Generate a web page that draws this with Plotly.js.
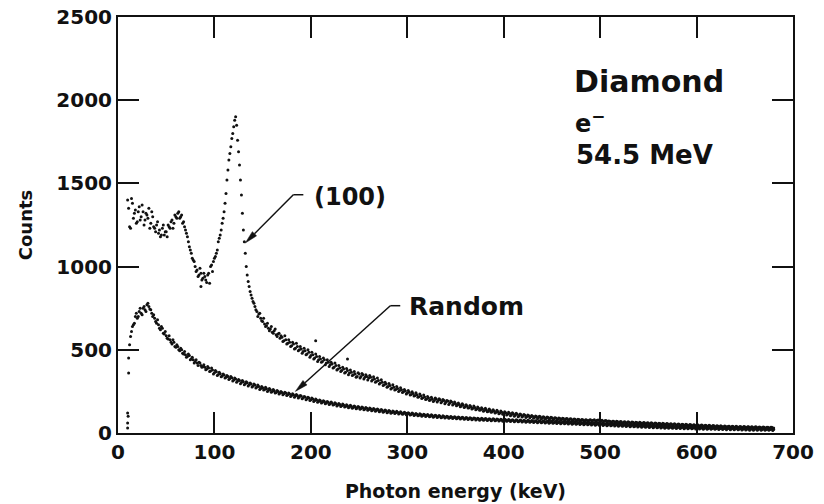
<!DOCTYPE html>
<html>
<head>
<meta charset="utf-8">
<script src="https://cdn.plot.ly/plotly-3.0.1.min.js"></script>
<style>html,body{margin:0;padding:0;background:#fff}#chart{width:824px;height:504px}</style>
</head>
<body>
<div id="chart"></div>
<script>
// Photon energy channels (keV), even channels
var energyEven = [
10,12,14,16,18,20,22,24,26,28,
30,32,34,36,38,40,42,44,46,48,
50,52,54,56,58,60,62,64,66,68,
70,72,74,76,78,80,82,84,86,88,
90,92,94,96,98,100,102,104,106,108,
110,112,114,116,118,120,122,124,126,128,
130,132,134,136,138,140,142,144,146,148,
150,152,154,156,158,160,162,164,166,168,
170,172,174,176,178,180,182,184,186,188,
190,192,194,196,198,200,202,204,206,208,
210,212,214,216,218,220,222,224,226,228,
230,232,234,236,238,240,242,244,246,248,
250,252,254,256,258,260,262,264,266,268,
270,272,274,276,278,280,282,284,286,288,
290,292,294,296,298,300,302,304,306,308,
310,312,314,316,318,320,322,324,326,328,
330,332,334,336,338,340,342,344,346,348,
350,352,354,356,358,360,362,364,366,368,
370,372,374,376,378,380,382,384,386,388,
390,392,394,396,398,400,402,404,406,408,
410,412,414,416,418,420,422,424,426,428,
430,432,434,436,438,440,442,444,446,448,
450,452,454,456,458,460,462,464,466,468,
470,472,474,476,478,480,482,484,486,488,
490,492,494,496,498,500,502,504,506,508,
510,512,514,516,518,520,522,524,526,528,
530,532,534,536,538,540,542,544,546,548,
550,552,554,556,558,560,562,564,566,568,
570,572,574,576,578,580,582,584,586,588,
590,592,594,596,598,600,602,604,606,608,
610,612,614,616,618,620,622,624,626,628,
630,632,634,636,638,640,642,644,646,648,
650,652,654,656,658,660,662,664,666,668,
670,672,674,676,678,680
];
// odd channels
var energyOdd = [
11,13,15,17,19,21,23,25,27,29,
31,33,35,37,39,41,43,45,47,49,
51,53,55,57,59,61,63,65,67,69,
71,73,75,77,79,81,83,85,87,89,
91,93,95,97,99,101,103,105,107,109,
111,113,115,117,119,121,123,125,127,129,
131,133,135,137,139,141,143,145,147,149,
151,153,155,157,159,161,163,165,167,169,
171,173,175,177,179,181,183,185,187,189,
191,193,195,197,199,201,203,205,207,209,
211,213,215,217,219,221,223,225,227,229,
231,233,235,237,239,241,243,245,247,249,
251,253,255,257,259,261,263,265,267,269,
271,273,275,277,279,281,283,285,287,289,
291,293,295,297,299,301,303,305,307,309,
311,313,315,317,319,321,323,325,327,329,
331,333,335,337,339,341,343,345,347,349,
351,353,355,357,359,361,363,365,367,369,
371,373,375,377,379,381,383,385,387,389,
391,393,395,397,399,401,403,405,407,409,
411,413,415,417,419,421,423,425,427,429,
431,433,435,437,439,441,443,445,447,449,
451,453,455,457,459,461,463,465,467,469,
471,473,475,477,479,481,483,485,487,489,
491,493,495,497,499,501,503,505,507,509,
511,513,515,517,519,521,523,525,527,529,
531,533,535,537,539,541,543,545,547,549,
551,553,555,557,559,561,563,565,567,569,
571,573,575,577,579,581,583,585,587,589,
591,593,595,597,599,601,603,605,607,609,
611,613,615,617,619,621,623,625,627,629,
631,633,635,637,639,641,643,645,647,649,
651,653,655,657,659,661,663,665,667,669,
671,673,675,677,679
];

// Counts, (100) orientation, even channels
var counts100Even = [
1400,1240,1410,1290,1340,1270,1360,1300,1330,1280,
1310,1350,1260,1300,1230,1250,1200,1180,1230,1190,
1210,1250,1230,1280,1260,1300,1320,1290,1310,1270,
1220,1180,1120,1080,1040,1000,980,950,960,930,
940,905,960,1000,970,1050,1080,1150,1190,1260,
1330,1440,1580,1680,1770,1840,1900,1760,1610,1430,
1220,1080,950,880,830,790,760,730,715,690,
670,655,645,630,625,605,615,590,595,570,
575,555,560,540,545,525,535,510,520,500,
505,490,495,475,485,465,470,450,460,440,
445,430,440,420,425,410,415,395,405,385,
390,375,385,365,375,360,365,350,355,340,
355,340,350,335,340,330,335,320,325,310,
315,300,305,290,295,280,285,270,275,262,
268,255,260,248,252,240,245,232,238,225,
230,218,224,212,216,205,210,200,205,195,
205,195,200,190,196,185,192,180,186,175,
178,168,172,162,168,158,163,152,158,148,
153,144,148,140,144,135,140,130,136,127,
132,124,128,120,125,117,122,113,118,110,
115,108,112,104,110,102,106,99,104,97,
101,94,99,92,97,90,95,88,93,87,
92,85,90,83,88,82,87,80,85,79,
84,78,82,76,81,75,80,74,78,73,
80,75,79,73,78,72,77,71,75,70,
71,66,70,64,69,63,68,62,66,61,
65,60,64,59,63,58,62,57,61,56,
60,55,59,54,58,53,57,52,56,51,
55,50,54,49,53,48,52,47,51,46,
50,45,49,44,48,43,47,42,46,41,
45,40,44,39,43,38,42,37,41,36,
40,36,40,35,39,34,38,34,38,33,
37,33,37,32,36,32,36,31,35,31,
35,30,34,30,34,30
];
// Counts, (100) orientation, odd channels
var counts100Odd = [
1350,1230,1380,1320,1260,1330,1280,1370,1250,1320,
1290,1230,1330,1240,1210,1270,1220,1190,1250,1210,
1180,1240,1270,1230,1310,1290,1330,1300,1260,1240,
1200,1150,1100,1050,1030,970,940,990,920,960,
920,950,900,1010,1030,1060,1100,1170,1220,1290,
1380,1520,1640,1720,1800,1880,1850,1690,1520,1320,
1150,1000,910,850,810,780,740,700,720,675,
690,640,660,615,640,600,625,580,600,585,
550,585,535,560,520,545,505,540,495,520,
480,510,470,500,455,485,445,475,430,460,
425,450,410,440,400,425,390,420,378,405,
370,395,360,388,350,378,345,370,335,362,
330,358,325,350,318,345,312,338,305,330,
295,320,285,305,275,298,265,290,258,280,
250,272,243,262,235,255,228,248,222,242,
215,235,208,228,202,220,196,215,190,210,
186,206,182,202,176,196,172,192,168,186,
164,180,158,176,153,170,150,166,144,162,
140,156,136,152,131,148,128,144,124,140,
120,136,116,132,112,128,108,125,104,121,
101,118,98,114,96,111,93,108,91,105,
88,102,86,100,84,98,82,96,80,94,
79,92,77,90,76,88,74,87,73,85,
72,84,70,82,69,81,68,80,66,78,
65,77,64,76,63,75,62,74,61,72,
60,71,59,70,58,69,57,68,56,67,
55,66,54,65,53,64,52,63,51,62,
50,61,49,60,48,59,47,58,46,57,
45,56,44,55,43,54,42,53,42,52,
41,51,40,50,39,49,39,48,38,47,
37,46,36,45,36,44,35,43,34,42,
34,41,33,41,32,40,32,39,31,39,
30,38,30,37,29,37,29,36,28,36,
28,35,27,35,27
];

// Counts, random orientation, even channels
var countsRandomEven = [
120,530,610,650,700,690,730,720,750,740,
770,760,740,700,690,660,650,620,630,595,
585,565,560,535,545,515,520,495,500,475,
470,460,465,445,440,430,420,425,405,400,
395,385,390,372,378,362,368,352,356,342,
348,335,340,328,332,318,325,312,316,304,
308,296,302,290,294,282,288,276,280,268,
272,262,266,256,260,250,254,244,250,240,
244,236,240,230,235,226,230,222,226,216,
222,212,216,206,210,200,205,195,199,190,
194,185,189,180,185,176,180,172,176,168,
172,164,168,160,164,157,161,153,158,150,
155,147,151,144,148,141,145,138,142,135,
139,132,136,129,133,126,130,123,127,121,
125,118,122,116,120,113,117,111,115,109,
113,107,111,105,109,103,107,101,105,99,
103,97,101,95,99,94,98,92,96,91,
95,89,93,88,92,86,90,85,89,84,
88,82,86,81,85,80,84,79,83,78,
82,77,81,76,80,75,79,74,78,73,
77,72,76,71,75,70,74,69,73,68,
72,67,71,66,70,65,69,64,68,63,
67,62,66,61,65,60,64,59,63,58,
62,57,61,56,60,55,59,54,58,53,
57,52,56,51,55,50,54,49,53,48,
52,47,51,46,50,45,49,44,48,43,
47,42,46,41,45,40,44,39,43,38,
42,37,41,36,40,35,39,34,38,33,
37,33,36,32,36,31,35,31,34,30,
34,30,33,29,33,29,32,28,32,28,
31,27,31,27,30,26,30,26,29,25,
29,25,28,24,28,24,27,23,27,23,
26,23,26,22,26,22,25,22,25,21,
25,21,24,21,24,21
];
// Counts, random orientation, odd channels
var countsRandomOdd = [
450,580,640,660,720,700,750,710,760,730,
780,745,720,710,670,680,630,640,600,610,
570,585,545,560,520,530,500,510,480,490,
455,475,440,455,420,440,405,420,395,410,
380,400,370,390,355,375,345,365,338,355,
330,345,322,340,312,330,305,322,296,315,
290,308,283,300,276,295,270,288,262,280,
258,275,250,268,245,262,240,256,234,250,
230,245,225,240,220,236,215,232,210,226,
206,220,200,215,195,210,190,204,185,198,
180,194,176,190,171,186,168,182,163,178,
160,174,156,170,152,167,149,163,146,160,
142,156,139,153,136,150,133,147,130,144,
127,141,125,138,122,135,119,132,117,130,
114,127,112,124,110,122,108,120,105,117,
103,115,101,113,99,111,97,109,95,107,
93,105,92,103,90,101,88,99,87,98,
85,96,84,95,82,93,81,92,80,90,
78,89,77,88,76,87,75,86,74,85,
73,84,72,83,71,82,70,81,69,80,
68,79,67,78,66,77,65,76,64,75,
63,74,62,73,61,72,60,71,59,70,
58,69,57,68,56,67,55,66,54,65,
53,64,52,63,51,62,50,61,49,60,
48,59,47,58,46,57,45,56,44,55,
43,54,42,53,41,52,40,51,39,50,
38,49,37,48,36,47,35,46,34,45,
33,44,32,43,31,42,30,41,29,40,
29,39,28,38,27,37,27,36,26,35,
25,35,25,34,24,33,24,32,23,32,
23,31,22,31,22,30,21,30,21,29,
20,29,20,28,19,28,19,27,18,27,
18,26,17,26,17,25,17,25,16,25,
16,24,16,24,15
];

// isolated stray points
var extra100X = [86, 205, 238];
var extra100Y = [880, 555, 445];
var extraRandomX = [10, 10, 11, 10.5];
var extraRandomY = [60, 30, 360, 100];

// callout arrows: [head x, head y, elbow x, elbow y, end x]
var arrow100 = [132, 1142, 181.8, 1432, 192.2];
var arrowRandom = [183.9, 250, 282.4, 765, 292.7];

var FONT = 'DejaVu Sans, Arial, sans-serif';
var INK = '#111';
var mk = {color: INK, size: 3};

var traces = [
  {x: energyEven.concat(energyOdd, extra100X), y: counts100Even.concat(counts100Odd, extra100Y), mode: 'markers', type: 'scatter', marker: mk, name: '(100)'},
  {x: energyEven.concat(energyOdd, extraRandomX), y: countsRandomEven.concat(countsRandomOdd, extraRandomY), mode: 'markers', type: 'scatter', marker: mk, name: 'Random'}
];

var M = {l: 118, r: 31, t: 17, b: 71};
var XR = [0, 700], YR = [0, 2500];
var kx = (824 - M.l - M.r) / (XR[1] - XR[0]);
var ky = (504 - M.t - M.b) / (YR[1] - YR[0]);

function calloutShapes(a) {
  var hx = a[0], hy = a[1], tx = a[2], ty = a[3], ex = a[4];
  // direction in pixel space
  var dxp = (tx - hx) * kx, dyp = (ty - hy) * ky;
  var len = Math.sqrt(dxp * dxp + dyp * dyp);
  var ux = dxp / len, uy = dyp / len;
  var L = 13, W = 3;
  var bx = hx + ux * L / kx, by = hy + uy * L / ky;
  var px1 = bx + (-uy) * W / kx, py1 = by + (ux) * W / ky;
  var px2 = bx - (-uy) * W / kx, py2 = by - (ux) * W / ky;
  return [
    {type: 'line', xref: 'x', yref: 'y', x0: ex, y0: ty, x1: tx, y1: ty, line: {color: INK, width: 1.5}},
    {type: 'line', xref: 'x', yref: 'y', x0: tx, y0: ty, x1: bx, y1: by, line: {color: INK, width: 1.5}},
    {type: 'path', xref: 'x', yref: 'y', path: 'M' + hx + ',' + hy + ' L' + px1 + ',' + py1 + ' L' + px2 + ',' + py2 + ' Z', fillcolor: INK, line: {color: INK, width: 0.5}}
  ];
}

var axisCommon = {
  showline: true, linecolor: INK, linewidth: 2, mirror: 'ticks',
  ticks: 'inside', ticklen: 21, tickwidth: 2, tickcolor: INK,
  showgrid: false, zeroline: false,
  tickfont: {family: FONT, size: 20, color: INK, weight: 'bold'}
};

function label(x, y, text, size) {
  return {x: x, y: y, xref: 'x', yref: 'y', text: text, showarrow: false, xanchor: 'left', yanchor: 'middle',
          font: {family: FONT, size: size, color: INK, weight: 'bold'}};
}

var layout = {
  width: 824, height: 504,
  margin: M,
  paper_bgcolor: '#fff', plot_bgcolor: '#fff',
  showlegend: false,
  xaxis: Object.assign({}, axisCommon, {
    range: XR, tickvals: [0,100,200,300,400,500,600,700],
    title: {text: 'Photon energy (keV)', font: {family: FONT, size: 19, color: INK, weight: 'bold'}, standoff: 22}
  }),
  yaxis: Object.assign({}, axisCommon, {
    range: YR, tickvals: [0,500,1000,1500,2000,2500],
    title: {text: 'Counts', font: {family: FONT, size: 18, color: INK, weight: 'bold'}, standoff: 19}
  }),
  annotations: [
    label(470.8, 2111, 'Diamond', 30),
    label(472, 1871, 'e<sup>−</sup>', 24),
    label(473, 1672, '54.5 MeV', 26),
    label(201.6, 1420, '(100)', 24),
    label(299.7, 761, 'Random', 25)
  ],
  shapes: calloutShapes(arrow100).concat(calloutShapes(arrowRandom))
};

Plotly.newPlot('chart', traces, layout, {staticPlot: true, displayModeBar: false});
</script>
</body>
</html>
